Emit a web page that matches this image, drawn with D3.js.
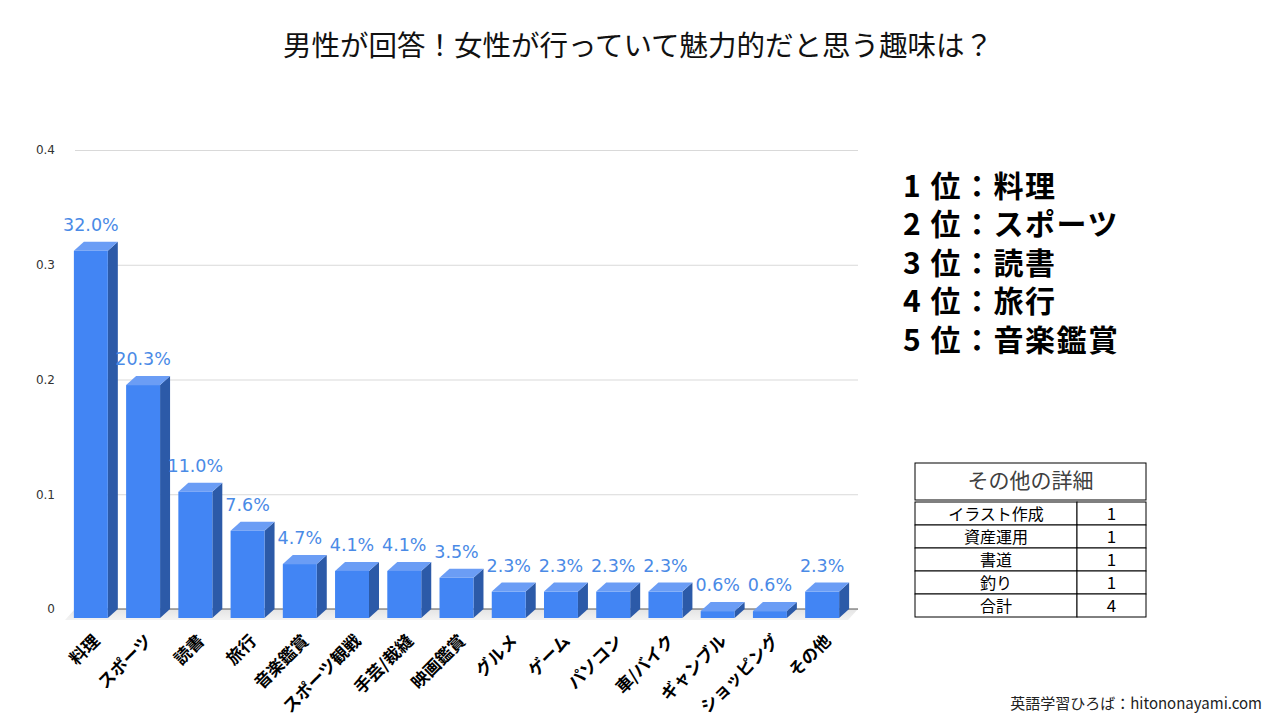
<!DOCTYPE html>
<html>
<head>
<meta charset="utf-8">
<script src="https://cdn.jsdelivr.net/npm/d3@7"></script>
<style>
  body { margin: 0; background: #fff; }
  svg { display: block; }
  .jp { font-family: "Noto Sans CJK JP", "Noto Sans", sans-serif; }
  .num { font-family: "DejaVu Sans", Verdana, sans-serif; }
</style>
</head>
<body>
<svg id="chart" width="1280" height="720"></svg>
<script>
const categories = ["料理", "スポーツ", "読書", "旅行", "音楽鑑賞", "スポーツ観戦", "手芸/裁縫", "映画鑑賞",
  "グルメ", "ゲーム", "パソコン", "車/バイク", "ギャンブル", "ショッピング", "その他"];
const shares = [0.320, 0.203, 0.110, 0.076, 0.047, 0.041, 0.041, 0.035,
  0.023, 0.023, 0.023, 0.023, 0.006, 0.006, 0.023];

const yTicks = [0, 0.1, 0.2, 0.3, 0.4];
const yTickLabels = ["0", "0.1", "0.2", "0.3", "0.4"];

const rankCount = 5;

const otherItems = ["イラスト作成", "資産運用", "書道", "釣り", "合計"];
const otherCounts = [1, 1, 1, 1, 4];

const title = "男性が回答！女性が行っていて魅力的だと思う趣味は？";
const tableTitle = "その他の詳細";
const credit = "英語学習ひろば：hitononayami.com";

const svg = d3.select("#chart");

// 3D depth: the back plane (gridlines) sits dx right and dy up from the bar fronts
const dx = 10, dy = 9;

const x = d3.scaleBand()
  .domain(categories)
  .range([65, 848])
  .paddingInner(0.35)
  .paddingOuter(0.17);

const y = d3.scaleLinear()
  .domain([0, 0.4])
  .range([609, 150]);

// title
svg.append("text")
  .attr("class", "jp")
  .attr("x", 638)
  .attr("y", 56)
  .attr("text-anchor", "middle")
  .style("font-size", "28.5px")
  .style("fill", "#111")
  .text(title);

// gridlines + y labels
const yAxis = svg.append("g")
  .attr("transform", `translate(${x.range()[0] + dx},0)`)
  .call(d3.axisLeft(y)
    .tickValues(yTicks)
    .tickSize(-(x.range()[1] - x.range()[0]))
    .tickPadding(20)
    .tickFormat((d, i) => yTickLabels[i]));
yAxis.select(".domain").remove();
yAxis.selectAll(".tick line").attr("stroke", "#d9d9d9");
yAxis.selectAll(".tick text")
  .attr("class", "num")
  .style("font-size", "12px")
  .style("fill", "#333");

// floor
const [r0, r1] = x.range();
const floorGrad = svg.append("defs").append("linearGradient")
  .attr("id", "floor")
  .attr("x1", 0).attr("x2", 0).attr("y1", 0).attr("y2", 1);
floorGrad.append("stop").attr("offset", "0%").attr("stop-color", "#e4e4e4");
floorGrad.append("stop").attr("offset", "100%").attr("stop-color", "#f3f3f3");
svg.append("polygon")
  .attr("points", [[r0 + dx, y(0)], [r1 + dx, y(0)], [r1, y(0) + dy + 2], [r0, y(0) + dy + 2]].join(" "))
  .attr("fill", "url(#floor)");
svg.append("line")
  .attr("x1", r0 + dx).attr("x2", r1 + dx)
  .attr("y1", y(0)).attr("y2", y(0))
  .attr("stroke", "#555")
  .attr("stroke-width", 1);

// bars
const bars = svg.append("g").selectAll("g.bar")
  .data(categories.map((c, i) => ({ cat: c, v: shares[i] })))
  .enter()
  .append("g")
  .attr("class", "bar");

const w = x.bandwidth();

bars.append("polygon")
  .attr("points", d => {
    const x0 = x(d.cat), yt = y(d.v) + dy, yb = y(0) + dy;
    return [[x0 + w, yt], [x0 + w + dx, yt - dy], [x0 + w + dx, yb - dy], [x0 + w, yb]].join(" ");
  })
  .attr("fill", "#2c5aa8");

bars.append("polygon")
  .attr("points", d => {
    const x0 = x(d.cat), yt = y(d.v) + dy;
    return [[x0, yt], [x0 + dx, yt - dy], [x0 + w + dx, yt - dy], [x0 + w, yt]].join(" ");
  })
  .attr("fill", "#6b9df5");

bars.append("rect")
  .attr("x", d => x(d.cat))
  .attr("y", d => y(d.v) + dy)
  .attr("width", w)
  .attr("height", d => y(0) - y(d.v))
  .attr("fill", "#4285f4");

bars.append("text")
  .attr("class", "num")
  .attr("x", d => x(d.cat) + w / 2)
  .attr("y", d => y(d.v) - 11)
  .attr("text-anchor", "middle")
  .style("font-size", "17.5px")
  .style("fill", "#4a8ae6")
  .text(d => d3.format(".1%")(d.v));

// rotated category labels
svg.append("g").selectAll("text")
  .data(categories)
  .enter()
  .append("text")
  .attr("class", "jp")
  .attr("transform", d => `translate(${x(d) + w / 2 + 10},642) rotate(-45)`)
  .attr("text-anchor", "end")
  .style("font-size", "17px")
  .style("font-weight", "700")
  .style("fill", "#000")
  .text(d => d);

// top 5 ranking
svg.append("g").selectAll("text")
  .data(categories.slice(0, rankCount))
  .enter()
  .append("text")
  .attr("class", "jp")
  .attr("x", 903)
  .attr("y", (d, i) => 197 + i * 38.4)
  .style("font-size", "30px")
  .style("font-weight", "700")
  .style("letter-spacing", "1.5px")
  .style("fill", "#000")
  .text((d, i) => `${i + 1} 位：${d}`);

// その他 table
const tbl = { left: 915, right: 1146, mid: 1077, top: 463, head: 500 };
const row = d3.scaleBand()
  .domain(otherItems)
  .range([502, 617]);

const table = svg.append("g");
table.append("rect")
  .attr("x", tbl.left).attr("y", tbl.top)
  .attr("width", tbl.right - tbl.left).attr("height", tbl.head - tbl.top)
  .attr("fill", "#fff").attr("stroke", "#000");
table.append("text")
  .attr("class", "jp")
  .attr("x", (tbl.left + tbl.right) / 2)
  .attr("y", 488)
  .attr("text-anchor", "middle")
  .style("font-size", "21px")
  .style("fill", "#404040")
  .text(tableTitle);

const rows = table.selectAll("g.row")
  .data(otherItems.map((k, i) => ({ k, n: otherCounts[i] })))
  .enter()
  .append("g")
  .attr("class", "row");

rows.append("rect")
  .attr("x", tbl.left).attr("y", d => row(d.k))
  .attr("width", tbl.mid - tbl.left).attr("height", row.bandwidth())
  .attr("fill", "#fff").attr("stroke", "#000");
rows.append("rect")
  .attr("x", tbl.mid).attr("y", d => row(d.k))
  .attr("width", tbl.right - tbl.mid).attr("height", row.bandwidth())
  .attr("fill", "#fff").attr("stroke", "#000");
rows.append("text")
  .attr("class", "jp")
  .attr("x", (tbl.left + tbl.mid) / 2)
  .attr("y", d => row(d.k) + row.bandwidth() - 5)
  .attr("text-anchor", "middle")
  .style("font-size", "16px")
  .style("fill", "#000")
  .text(d => d.k);
rows.append("text")
  .attr("class", "jp")
  .attr("x", (tbl.mid + tbl.right) / 2)
  .attr("y", d => row(d.k) + row.bandwidth() - 5)
  .attr("text-anchor", "middle")
  .style("font-size", "17px")
  .style("fill", "#000")
  .text(d => d.n);

// credit
svg.append("text")
  .attr("class", "jp")
  .attr("x", 1262)
  .attr("y", 709)
  .attr("text-anchor", "end")
  .style("font-size", "15px")
  .style("fill", "#222")
  .text(credit);
</script>
</body>
</html>
